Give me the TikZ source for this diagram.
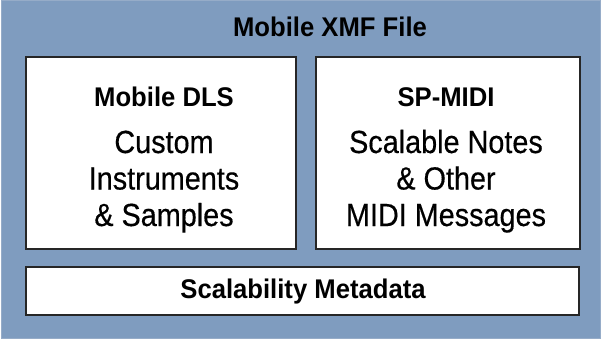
\documentclass[tikz,border=0pt]{standalone}
\usepackage{fontspec}
\usepackage{xcolor}
\usepackage{tikz}

\newfontfamily\headfont{Liberation Sans Bold}[FakeStretch=0.95]
\newfontfamily\bodyfont{Liberation Sans}[FakeStretch=0.9, FakeBold=0.4]
\definecolor{xmfblue}{RGB}{127,156,191}
\definecolor{xmfedge}{RGB}{150,172,200}

\begin{document}
\begin{tikzpicture}[x=1pt, y=-1pt,
    part/.style={rectangle, draw=black!85, line width=1.2pt, fill=white, inner sep=0pt},
    head/.style={font=\headfont\fontsize{27}{27}\selectfont, inner sep=0pt, anchor=base},
    body/.style={font=\bodyfont\fontsize{32}{36.5}\selectfont, align=center, inner sep=0pt, anchor=base}]
            \useasboundingbox (0,0) rectangle (601,339);
            % Boxes
            \node[rectangle, draw=xmfedge, fill=xmfblue, line width=1pt, minimum width=599pt, minimum height=337pt, inner sep=0pt] (file) at (300.5,169.5) {};
            \node[part, minimum width=270pt, minimum height=192pt] (dls) at (161,153) {};
            \node[part, minimum width=264pt, minimum height=192pt] (spmidi) at (448,153) {};
            \node[part, minimum width=553pt, minimum height=48pt] (meta) at (302.5,291) {};

            % Labels (body text sits on the baseline of its last line)
            \node[head] (filetitle) at (330,37) {Mobile XMF File};
            \node[head] (dlstitle) at (164,107) {Mobile DLS};
            \node[head] (spmidititle) at (446,107) {SP-MIDI};
            \node[head] (metatitle) at (303,298.5) {Scalability Metadata};
            \node[body] (dlstext) at (164,226) {Custom\\Instruments\\\& Samples};
            \node[body] (spmiditext) at (446,226) {Scalable Notes\\\& Other\\MIDI Messages};
        \end{tikzpicture}
\end{document}
